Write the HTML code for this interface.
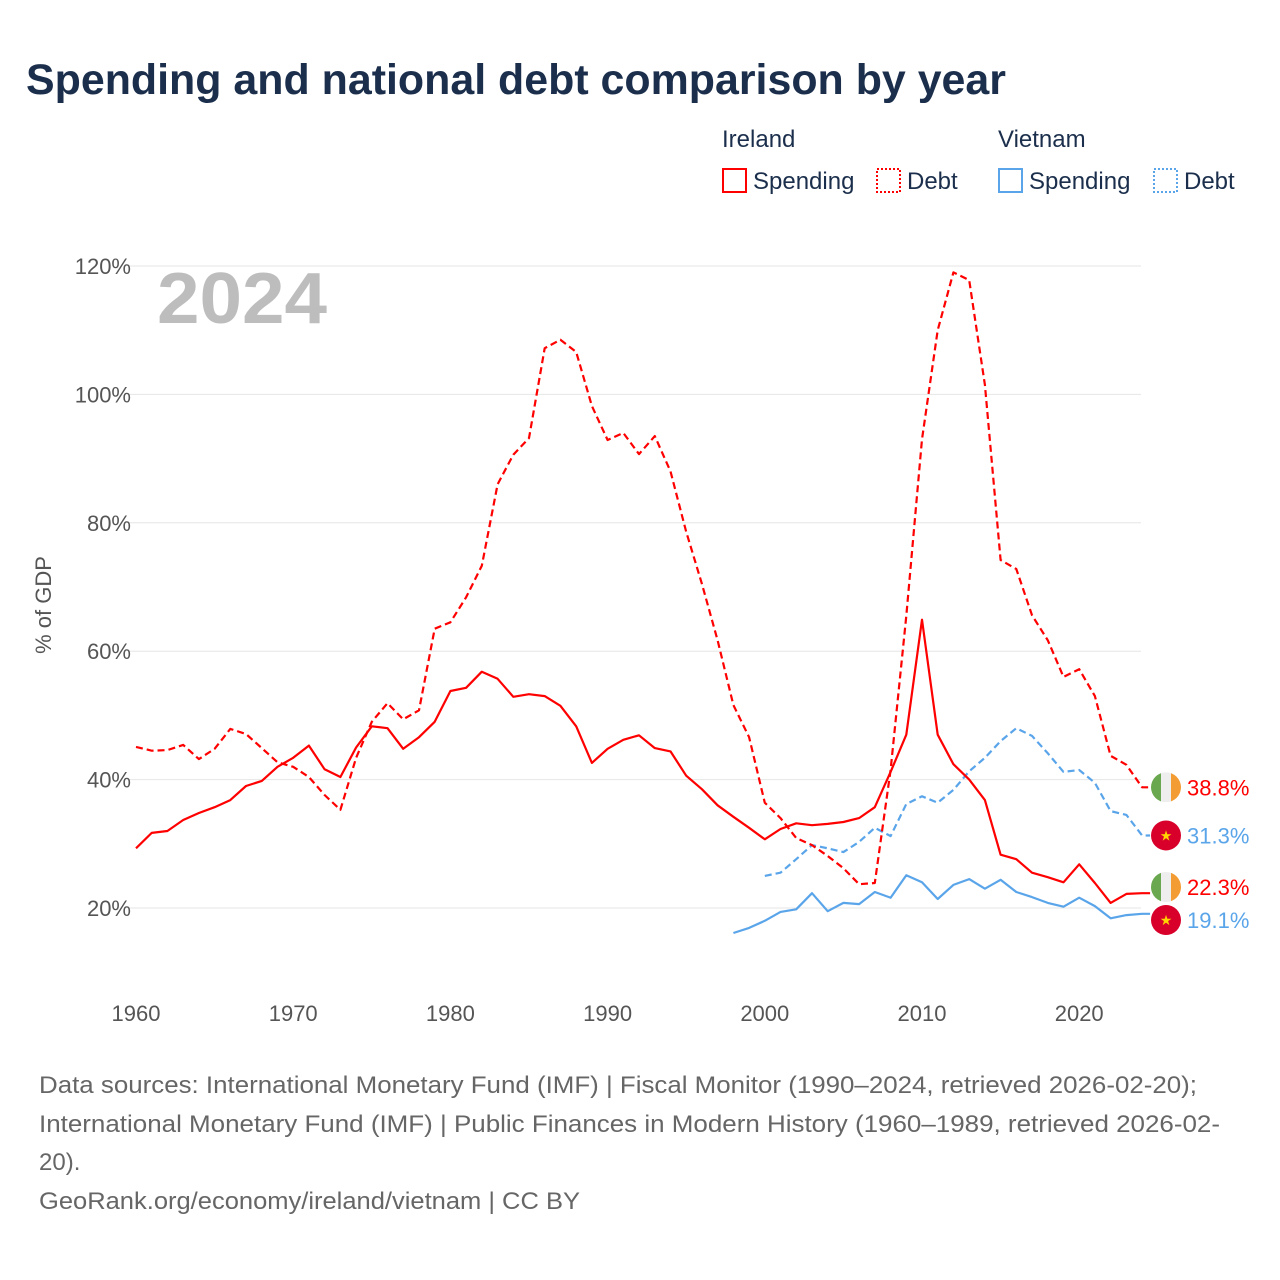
<!DOCTYPE html>
<html><head><meta charset="utf-8"><style>
body{margin:0;background:#fff;font-family:"Liberation Sans",sans-serif}
#wrap{position:relative;width:1280px;height:1280px;overflow:hidden}
</style></head><body>
<div id="wrap">
<svg id="svg" width="1280" height="1280" xmlns="http://www.w3.org/2000/svg">
<text x="26" y="94" font-size="43" font-weight="bold" fill="#1b2f4c" textLength="980" lengthAdjust="spacingAndGlyphs">Spending and national debt comparison by year</text>
<g font-size="24" fill="#1b2f4c">
<text x="722" y="147">Ireland</text>
<text x="998" y="147">Vietnam</text>
<g><rect x="723" y="169" width="23" height="23" fill="none" stroke="#f00" stroke-width="2"/><text x="753" y="189">Spending</text></g>
<g><rect x="877" y="169" width="23" height="23" fill="none" stroke="#f00" stroke-width="2" stroke-dasharray="2,2"/><text x="907" y="189">Debt</text></g>
<g><rect x="999" y="169" width="23" height="23" fill="none" stroke="#5aa5ea" stroke-width="2"/><text x="1029" y="189">Spending</text></g>
<g><rect x="1154" y="169" width="23" height="23" fill="none" stroke="#5aa5ea" stroke-width="2" stroke-dasharray="2,2"/><text x="1184" y="189">Debt</text></g>
</g>
<text x="157" y="323" font-size="72" font-weight="bold" fill="#bdbdbd" textLength="170" lengthAdjust="spacingAndGlyphs">2024</text>
<text transform="translate(51,605) rotate(-90)" text-anchor="middle" font-size="22" fill="#555">% of GDP</text>
<g id="grid"></g><g id="series"></g><g id="ends"></g>
<g font-size="24" fill="#666">
<text x="39" y="1093" textLength="1158" lengthAdjust="spacingAndGlyphs">Data sources: International Monetary Fund (IMF) | Fiscal Monitor (1990–2024, retrieved 2026-02-20);</text>
<text x="39" y="1132" textLength="1181" lengthAdjust="spacingAndGlyphs">International Monetary Fund (IMF) | Public Finances in Modern History (1960–1989, retrieved 2026-02-</text>
<text x="39" y="1170">20).</text>
<text x="39" y="1209" textLength="541" lengthAdjust="spacingAndGlyphs">GeoRank.org/economy/ireland/vietnam | CC BY</text>
</g>
</svg>
</div>
<script>
const yTicks=[20,40,60,80,100,120];
const xTicks=[1960,1970,1980,1990,2000,2010,2020];
const ieStartYear=1960;
const ieSpending=[29.3,31.7,32,33.7,34.8,35.7,36.8,39,39.8,42,43.4,45.3,41.6,40.4,45,48.3,48,44.8,46.6,49,53.8,54.3,56.8,55.7,52.9,53.3,53,51.5,48.3,42.6,44.8,46.2,46.9,44.9,44.4,40.6,38.5,36,34.2,32.5,30.7,32.3,33.2,32.9,33.1,33.4,34,35.7,41.2,47,64.9,47,42.4,40,36.8,28.3,27.6,25.5,24.8,24,26.8,23.9,20.8,22.2,22.3];
const ieDebt=[45.1,44.5,44.6,45.4,43.2,44.8,47.9,47.1,44.9,42.7,42,40.4,37.6,35.3,43.4,49,51.9,49.4,50.8,63.5,64.5,68.4,73.3,86,90.6,93.2,107.2,108.5,106.6,98.2,92.9,94,90.7,93.5,88,78.6,70.5,61.7,51.6,46.6,36.4,34,30.9,29.8,28.1,26.2,23.7,23.9,41.5,65.5,93,110,119,117.8,101.5,74.2,72.8,65.6,61.7,56,57.2,53,43.7,42.3,38.8];
const vnSpendStart=1998;
const vnSpending=[16.1,16.9,18,19.4,19.8,22.3,19.5,20.8,20.6,22.5,21.6,25.1,24,21.4,23.6,24.5,23,24.4,22.5,21.7,20.8,20.2,21.6,20.3,18.4,18.9,19.1];
const vnDebtStart=2000;
const vnDebt=[25,25.5,27.6,29.8,29.3,28.7,30.3,32.5,31.2,36.2,37.4,36.4,38.4,41.3,43.4,46,48,46.8,44.1,41.2,41.5,39.5,35.1,34.5,31.3];
const NS='http://www.w3.org/2000/svg';
const X=yr=>136+(yr-1960)*15.72;
const Y=v=>908-(v-20)*6.42;
function mk(tag,attrs,parent){const e=document.createElementNS(NS,tag);for(const k in attrs)e.setAttribute(k,attrs[k]);parent.appendChild(e);return e;}
const grid=document.getElementById('grid');
yTicks.forEach(t=>{
 const l=mk('line',{x1:128,x2:1141,y1:Y(t),y2:Y(t),stroke:'#e6e6e6','stroke-width':1},grid);
 
 
 const tx=mk('text',{x:131,y:Y(t)+8,'text-anchor':'end','font-size':22,fill:'#555'},grid);
 tx.textContent=t+'%';
 
 
});
xTicks.forEach(t=>{
 const tx=mk('text',{x:X(t),y:1021,'text-anchor':'middle','font-size':22,fill:'#555'},grid);
 tx.textContent=t;
 
 
});
const ser=document.getElementById('series');
function line(arr,start,color,dash,name){
 const pts=arr.map((v,i)=>X(start+i).toFixed(1)+','+Y(v).toFixed(1));
 const lastx=X(start+arr.length-1),lasty=Y(arr[arr.length-1]);
 pts.push((lastx+8)+','+lasty.toFixed(1));
 const p=mk('polyline',{points:pts.join(' '),fill:'none',stroke:color,'stroke-width':2.2,'stroke-linejoin':'round'},ser);
 if(dash)p.setAttribute('stroke-dasharray','7,4');
 
 
}
line(vnSpending,vnSpendStart,'#5aa5ea',false,'line-vietnam-spending');
line(vnDebt,vnDebtStart,'#5aa5ea',true,'line-vietnam-debt');
line(ieSpending,ieStartYear,'#f00',false,'line-ireland-spending');
line(ieDebt,ieStartYear,'#f00',true,'line-ireland-debt');
const ends=document.getElementById('ends');
const endLabels=[
 {v:ieDebt[ieDebt.length-1],c:'#f00',f:'ie',n:'ireland-debt'},
 {v:vnDebt[vnDebt.length-1],c:'#5aa5ea',f:'vn',n:'vietnam-debt'},
 {v:ieSpending[ieSpending.length-1],c:'#f00',f:'ie',n:'ireland-spending'},
 {v:vnSpending[vnSpending.length-1],c:'#5aa5ea',f:'vn',n:'vietnam-spending'}];
const ys=endLabels.map(d=>Y(d.v));
for(let it=0;it<20;it++){for(let i=1;i<ys.length;i++){const gap=ys[i]-ys[i-1];if(gap<33){const m=(ys[i]+ys[i-1])/2;ys[i-1]=m-16.5;ys[i]=m+16.5;}}}
endLabels.forEach((d,i)=>{
 const y=ys[i];
 const g=mk('g',{},ends);
 
 
 const cx=1166;
 if(d.f==='ie'){
  mk('clipPath',{id:'c'+d.n},g).appendChild(document.createElementNS(NS,'circle'));
  const cp=g.querySelector('clipPath circle');cp.setAttribute('cx',cx);cp.setAttribute('cy',y);cp.setAttribute('r',15);
  const gg=mk('g',{'clip-path':'url(#c'+d.n+')'},g);
  mk('rect',{x:cx-15,y:y-15,width:10,height:30,fill:'#6aa84f'},gg);
  mk('rect',{x:cx-5,y:y-15,width:10,height:30,fill:'#eee'},gg);
  mk('rect',{x:cx+5,y:y-15,width:10,height:30,fill:'#f39c33'},gg);
 } else {
  mk('circle',{cx:cx,cy:y,r:15,fill:'#d8002a'},g);
  const s=mk('text',{x:cx,y:y+5,'text-anchor':'middle','font-size':14,fill:'#ffd400'},g);s.textContent='★';
 }
 const t=mk('text',{x:1187,y:y+8,'font-size':22,fill:d.c},g);
 t.textContent=d.v.toFixed(1)+'%';
});
</script>
</body></html>
